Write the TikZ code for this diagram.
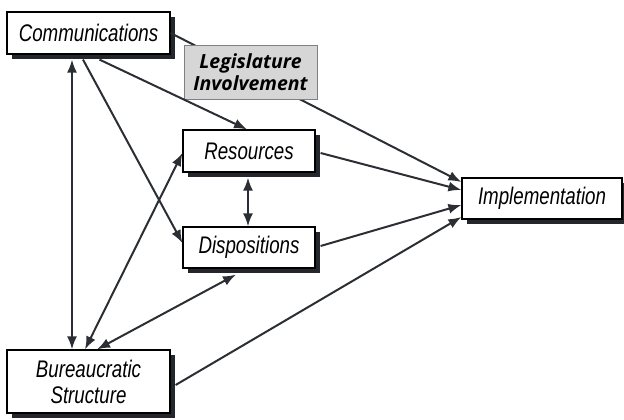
\documentclass[tikz,border=0pt]{standalone}
\usepackage{fontspec}
\newfontfamily\boxfont[FakeStretch=0.78]{Liberation Sans}
\newfontfamily\legfont{Open Sans}
\usetikzlibrary{arrows.meta,shadows}
\definecolor{linegray}{HTML}{2B2E33}
\definecolor{shadowgray}{HTML}{23262B}
\definecolor{legfill}{HTML}{D6D6D6}

\begin{document}
\begin{tikzpicture}[x=1pt,y=-1pt]

	% Styles
	\tikzstyle{varbox} = [draw=black,line width=1.2pt,fill=white,inner sep=0pt,
		font=\boxfont\itshape\fontsize{24}{26}\selectfont,align=center,
		drop shadow={shadow xshift=5pt,shadow yshift=-5pt,fill=shadowgray,opacity=1}]
	\tikzstyle{legbox} = [draw=gray,line width=0.8pt,fill=legfill,inner sep=0pt,
		minimum width=133pt,minimum height=54pt,
		font=\legfont\bfseries\itshape\fontsize{19.5}{22}\selectfont,align=center]
	\tikzstyle{conn} = [draw=linegray,line width=2pt]
	\tikzstyle{onearrow} = [-{Latex[length=13pt,width=10pt]}]
	\tikzstyle{twoarrow} = [{Latex[length=13pt,width=10pt]}-{Latex[length=13pt,width=10pt]}]

	\useasboundingbox (0,0) rectangle (624,420);

	% Variablen
	\node at (88.5,33) [varbox,minimum width=163pt,minimum height=42pt] (comm) {Communications};
	\node at (542,198.5) [varbox,minimum width=160pt,minimum height=41pt] (impl) {Implementation};
	\node at (249,151) [varbox,minimum width=132pt,minimum height=42pt] (res) {Resources};
	\node at (249,247.5) [varbox,minimum width=132pt,minimum height=41pt] (disp) {Dispositions};
	\node at (88.5,381.5) [varbox,minimum width=163pt,minimum height=63pt] (bur) {Bureaucratic\\Structure};

	% Linie hinter dem Kasten
	\draw[conn,onearrow] (comm.east) -- ([yshift=16.5pt]impl.west);
	\node at (250.5,72) [legbox] (leg) {Legislature\\Involvement};

	% Pfeile
	\draw[conn,twoarrow] ([xshift=-16.5pt,yshift=-5pt]comm.south) -- ([xshift=-16.5pt]bur.north);
	\draw[conn,onearrow] ([xshift=11pt,yshift=-5pt]comm.south) -- ([xshift=-2pt]res.north);
	\draw[conn,onearrow] ([xshift=-5.5pt,yshift=-5pt]comm.south) -- ([yshift=4.5pt]disp.west);
	\draw[conn,twoarrow] ([xshift=-1pt,yshift=-5pt]res.south) -- ([xshift=-1pt]disp.north);
	\draw[conn,twoarrow] ([yshift=-2pt]res.west) -- ([xshift=-3.5pt]bur.north);
	\draw[conn,twoarrow] ([xshift=-13pt,yshift=-6pt]disp.south) -- ([xshift=8.5pt]bur.north);
	\draw[conn,onearrow] ([xshift=5pt,yshift=-2pt]res.east) -- ([yshift=8.5pt]impl.west);
	\draw[conn,onearrow] ([xshift=5pt,yshift=1.5pt]disp.east) -- ([yshift=-6.5pt]impl.west);
	\draw[conn,onearrow] ([xshift=5pt,yshift=-3.5pt]bur.east) -- ([yshift=-18.5pt]impl.west);

\end{tikzpicture}
\end{document}
